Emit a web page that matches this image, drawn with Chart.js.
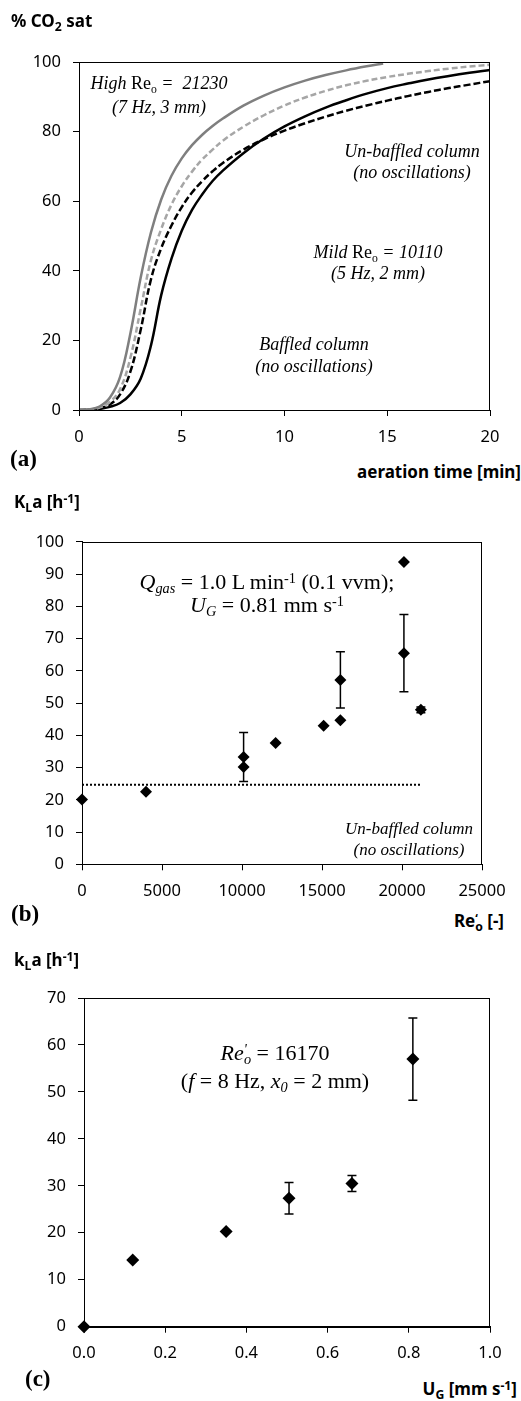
<!DOCTYPE html>
<html><head><meta charset="utf-8">
<script src="https://cdn.jsdelivr.net/npm/chart.js@4.4.1/dist/chart.umd.min.js"></script>
<style>
html,body{margin:0;padding:0;background:#fff;}
#wrap{position:relative;width:521px;height:1401px;overflow:hidden;background:#fff;}
canvas{position:absolute;left:0;}
.t{position:absolute;white-space:nowrap;line-height:1;color:#000;}
.ax{font-family:'Noto Sans',sans-serif;font-weight:bold;font-size:17px;transform:translateY(-50%);}
.axr{font-family:'Noto Sans',sans-serif;font-weight:bold;font-size:17px;transform:translate(-100%,-50%);}
.ax .sm,.axr .sm{font-size:0.72em;}
.pl{font-family:'Liberation Serif','Times New Roman',serif;font-weight:bold;font-size:23px;transform:translateY(-50%);}
.an{font-family:'Liberation Serif','Times New Roman',serif;transform:translate(-50%,-50%);text-align:center;}
.an i{font-style:italic;}
.sm{font-size:0.65em;position:relative;}
.sb{top:0.3em;}
.sp{top:-0.45em;}
</style></head><body>
<div id="wrap">
<canvas id="ca" width="521" height="420" style="top:30px"></canvas>
<canvas id="cb" width="521" height="385" style="top:520px"></canvas>
<canvas id="cc" width="521" height="395" style="top:975px"></canvas>

<div class="t ax" style="left:11px;top:21px">% CO<span class="sm sb">2</span> sat</div>
<div class="t pl" style="left:10px;top:458px">(a)</div>
<div class="t axr" style="left:521px;top:471px">aeration time [min]</div>

<div class="t an" style="left:159px;top:83px;font-size:18px"><i>High</i> Re<span class="sm sb">o</span> <i>=&nbsp; 21230</i></div>
<div class="t an" style="left:159px;top:107px;font-size:18px"><i>(7 Hz, 3 mm)</i></div>
<div class="t an" style="left:412px;top:151px;font-size:18px"><i>Un-baffled column</i></div>
<div class="t an" style="left:412px;top:172px;font-size:18px"><i>(no oscillations)</i></div>
<div class="t an" style="left:378px;top:252px;font-size:18px"><i>Mild</i> Re<span class="sm sb">o</span> <i>= 10110</i></div>
<div class="t an" style="left:378px;top:273px;font-size:18px"><i>(5 Hz, 2 mm)</i></div>
<div class="t an" style="left:314px;top:344px;font-size:18px"><i>Baffled column</i></div>
<div class="t an" style="left:314px;top:366px;font-size:18px"><i>(no oscillations)</i></div>

<div class="t ax" style="left:14px;top:502px">K<span class="sm sb">L</span>a [h<span class="sm sp">-1</span>]</div>
<div class="t pl" style="left:11px;top:913px">(b)</div>
<div class="t axr" style="left:504px;top:921px">Re<span style="display:inline-block;width:0;position:relative;top:-0.35em;font-size:0.7em">‘</span><span class="sm sb">o</span> [-]</div>
<div class="t an" style="left:267px;top:582px;font-size:22px"><i>Q<span class="sm sb">gas</span></i> = 1.0 L min<span class="sm sp">-1</span> (0.1 vvm);</div>
<div class="t an" style="left:267px;top:605px;font-size:22px"><i>U<span class="sm sb">G</span></i> = 0.81 mm s<span class="sm sp">-1</span></div>
<div class="t an" style="left:409px;top:828px;font-size:17px"><i>Un-baffled column</i></div>
<div class="t an" style="left:409px;top:849px;font-size:17px"><i>(no oscillations)</i></div>

<div class="t ax" style="left:14px;top:960px">k<span class="sm sb">L</span>a [h<span class="sm sp">-1</span>]</div>
<div class="t pl" style="left:25px;top:1378px">(c)</div>
<div class="t axr" style="left:517px;top:1389px">U<span class="sm sb">G</span> [mm s<span class="sm sp">-1</span>]</div>
<div class="t an" style="left:275px;top:1053px;font-size:22px"><i>Re<span class="sm sp">'</span><span class="sm sb" style="margin-left:-0.2em">o</span></i> = 16170</div>
<div class="t an" style="left:275px;top:1081px;font-size:22px">(<i>f</i> = 8 Hz, <i>x<span class="sm sb">0</span></i> = 2 mm)</div>
</div>
<script>
// ---- Panel (a): CO2 saturation vs aeration time ----
const timeHigh = [0,0.5,1,1.5,2,2.5,3,3.5,4,4.5,5,5.5,6,6.5,7,8,9,10,11,12,13,14,14.8];
const highRe   = [0,0.2,1,3.5,9.5,22,38,51,60.5,67.3,72.3,76.1,79.1,81.6,83.75,87.45,90.35,92.7,94.65,96.25,97.6,98.75,99.55];
const time     = [0,0.5,1,1.5,2,2.5,3,3.5,4,4.5,5,5.5,6,6.5,7,8,9,10,11,12,13,14,15,16,17,18,19,20];
const mildRe   = [0,0.1,0.7,2.3,6,15,29,43,52,59,64.3,68.5,72,74.8,77.4,81.4,84.7,87.5,89.8,91.7,93.3,94.6,95.7,96.6,97.4,98.1,98.7,99.2];
const baffled  = [0,0.1,0.3,0.9,2,4.5,9,18.5,33,43.5,51.5,57.5,62,65.8,68.8,73.8,78,81.5,84.4,86.9,89,90.9,92.5,93.8,95,96,96.9,97.7];
const unbaffled= [0,0.1,0.5,1.6,4.5,11,23,37.5,46.5,53,58.3,62.5,65.8,68.6,71,74.8,77.8,80.3,82.4,84.3,86,87.5,88.9,90.2,91.4,92.5,93.5,94.5];
const ticksA_x = [0,5,10,15,20];
const ticksA_y = [0,20,40,60,80,100];

// ---- Panel (b): kLa vs Re'o ----
const reO    = [0,4000,10100,10100,12100,15100,16150,16150,20120,20120,21180];
const klaB   = [20.1,22.5,30.2,33.3,37.6,43.0,44.7,57.2,93.8,65.5,47.9];
const errB   = [0,0,0,7.6,0,0,0,8.7,0,12,0.9];
const unbaffledKla = 24.7;
const unbaffledReRange = [0,21180];
const ticksB_x = [0,5000,10000,15000,20000,25000];
const ticksB_y = [0,10,20,30,40,50,60,70,80,90,100];

// ---- Panel (c): kLa vs UG ----
const ug     = [0,0.12,0.35,0.505,0.66,0.81];
const klaC   = [0,14.2,20.3,27.35,30.5,57.0];
const errC   = [0,0,0,3.35,1.7,8.75];
const ticksC_x = [0,0.2,0.4,0.6,0.8,1.0];
const ticksC_y = [0,10,20,30,40,50,60,70];

const pts = (xs, ys) => xs.map((x,i)=>({x:x,y:ys[i]}));
const TICKFONT = {family:"'Noto Sans', sans-serif", size:16.5};

const framePlugin = {
  id:'frame',
  afterDraw(chart){
    const a = chart.chartArea, c = chart.ctx;
    c.save(); c.strokeStyle='#000'; c.lineWidth=1;
    c.strokeRect(Math.round(a.left)+0.5, Math.round(a.top)+0.5, Math.round(a.right-a.left)-1, Math.round(a.bottom-a.top));
    c.restore();
  }
};
const errPlugin = {
  id:'errbars',
  beforeDatasetsDraw(chart){
    const c = chart.ctx, xs = chart.scales.x, ys = chart.scales.y;
    chart.data.datasets.forEach(ds=>{
      if(!ds.errors) return;
      ds.data.forEach((p,i)=>{
        const e = ds.errors[i]; if(!e) return;
        const px = xs.getPixelForValue(p.x);
        const y1 = ys.getPixelForValue(p.y+e), y2 = ys.getPixelForValue(p.y-e);
        c.save(); c.strokeStyle='#000'; c.lineWidth=1.5;
        c.beginPath();
        c.moveTo(px,y1); c.lineTo(px,y2);
        c.moveTo(px-4.5,y1); c.lineTo(px+4.5,y1);
        c.moveTo(px-4.5,y2); c.lineTo(px+4.5,y2);
        c.stroke(); c.restore();
      });
    });
  }
};

function axisCfg(min,max,values,fit,isX,fmt){
  return {
    type:'linear', min:min, max:max,
    afterBuildTicks: s => { s.ticks = values.map(v=>({value:v})); },
    afterFit: s => { if(isX) s.height = fit; else s.width = fit; },
    grid:{drawOnChartArea:false, drawTicks:true, tickLength:6, color:'#000', lineWidth:1},
    border:{display:true, color:'#000', width:1},
    ticks:{color:'#000', font:TICKFONT, padding: isX ? 11 : 12, maxRotation:0, autoSkip:false,
      callback: fmt || (v=>String(v))}
  };
}

function baseOpts(pad, xAxis, yAxis){
  return {
    responsive:false, devicePixelRatio:1, animation:false,
    layout:{padding:pad},
    plugins:{legend:{display:false}, tooltip:{enabled:false}},
    scales:{x:xAxis, y:yAxis}
  };
}

const curve = (xs, ys, color, dash) => ({
  data:pts(xs,ys), borderColor:color, borderWidth:2.5, borderDash:dash||[], pointRadius:0,
  tension:0.4, cubicInterpolationMode:'default'
});

// Panel (a)
new Chart(document.getElementById('ca'), {
  type:'line',
  data:{datasets:[
    curve(timeHigh, highRe, '#7f7f7f'),
    curve(time, mildRe, '#a6a6a6', [6,3]),
    curve(time, baffled, '#000'),
    curve(time, unbaffled, '#000', [7,3])
  ]},
  options: baseOpts({top:32,left:0,right:31,bottom:0},
    axisCfg(0,20,ticksA_x,40,true),
    axisCfg(0,100,ticksA_y,79,false)),
  plugins:[framePlugin]
});

// Panel (b)
new Chart(document.getElementById('cb'), {
  type:'scatter',
  data:{datasets:[
    {type:'line', data:unbaffledReRange.map(x=>({x:x,y:unbaffledKla})), borderColor:'#000', borderWidth:2, borderDash:[2,2], pointRadius:0},
    {data:pts(reO,klaB), errors:errB, clip:false, pointStyle:'rectRot', pointRadius:6, backgroundColor:'#000', borderColor:'#000', borderWidth:0}
  ]},
  options: baseOpts({top:20,left:0,right:39,bottom:0},
    axisCfg(0,25000,ticksB_x,40.7,true),
    axisCfg(0,100,ticksB_y,82,false)),
  plugins:[framePlugin, errPlugin]
});

// Panel (c)
new Chart(document.getElementById('cc'), {
  type:'scatter',
  data:{datasets:[
    {data:pts(ug,klaC), errors:errC, clip:false, pointStyle:'rectRot', pointRadius:6.5, backgroundColor:'#000', borderColor:'#000', borderWidth:0}
  ]},
  options: baseOpts({top:23,left:0,right:31,bottom:0},
    axisCfg(0,1,ticksC_x,43.3,true, v=>Number(v).toFixed(1)),
    axisCfg(0,70,ticksC_y,84,false)),
  plugins:[framePlugin, errPlugin]
});
</script>
</body></html>
